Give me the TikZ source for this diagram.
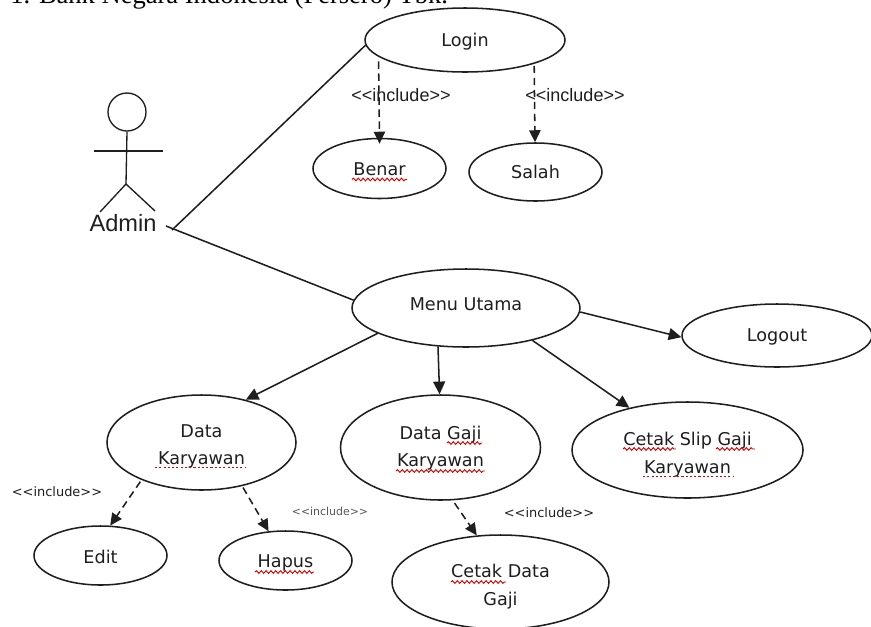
\documentclass[tikz,border=0pt]{standalone}
\usepackage{fontspec}
\setmainfont{DejaVu Sans}
\newfontfamily\arialfont{Liberation Sans}
\newfontfamily\timesfont{Liberation Serif}
\usetikzlibrary{arrows.meta,shapes.geometric,decorations.pathmorphing}
\definecolor{ink}{HTML}{1E1E1E}
\newcommand\txshift[2]{\raisebox{\dimexpr#1-3.3pt\relax}[0pt][0pt]{\begin{tabular}[c]{@{}c@{}}#2\end{tabular}}}
\newcommand\ucnode[6]{\node[uc,minimum width=#4*1.5pt,minimum height=#5*1.5pt] (#1) at (#2,#3) {#6};}
\tikzset{
  uc/.style={ellipse,draw=ink,line width=1.15pt,fill=white,inner sep=0pt,text=ink,
    font=\fontsize{13.2}{20.5}\selectfont},
  limb/.style={draw=ink,line width=1pt},
  assoc/.style={draw=ink,line width=1.15pt},
  flow/.style={draw=ink,line width=1.15pt,-{Triangle[length=9.5pt,width=9pt]}},
  incl/.style={draw=ink,line width=1.15pt,dash pattern=on 5.5pt off 3.5pt,-{Triangle[length=9pt,width=8.5pt]}},
  inclbig/.style={text=ink,font=\arialfont\fontsize{13.5}{16}\selectfont,inner sep=0pt},
  inclmid/.style={text=ink,font=\fontsize{9.7}{12}\selectfont,inner sep=0pt},
  inclsmall/.style={text=ink!75,font=\fontsize{8.2}{10}\selectfont,inner sep=0pt},
  wavy/.style={draw=red!85!black,line width=.7pt,decorate,decoration={snake,segment length=3.6pt,amplitude=1pt}},
  dots/.style={draw=red!85!black,line width=.7pt,dash pattern=on 1.6pt off 1.6pt},
}
\begin{document}
\begin{tikzpicture}[x=.75pt,y=-.75pt]
\useasboundingbox (0,0) rectangle (871,626);
\clip (0,0) rectangle (871,626);
\fill[white] (0,0) rectangle (871,626);
\node[anchor=base west,inner sep=0pt,text=black,font=\timesfont\fontsize{19.9}{22}\selectfont] (title) at (10,3) {1. Bank Negara Indonesia (Persero) Tbk.};
% actor
\node[circle,draw=ink,line width=1pt,minimum size=28.5pt,inner sep=0pt] (head) at (127,112) {};
\coordinate (hip) at (126,184);
\coordinate (armL) at (94,151);
\coordinate (armR) at (163,151);
\coordinate (footL) at (100,212);
\coordinate (footR) at (155,211);
\draw[limb] (head.south) -- (hip);
\draw[limb] (armL) -- (armR);
\draw[limb] (footL) -- (hip) -- (footR);
\node[inner sep=0pt,text=ink,font=\arialfont\fontsize{17.7}{20}\selectfont] (admin) at (123,223) {Admin};
\coordinate (adminendA) at (172,230);
\coordinate (adminendB) at (166,226);
% use cases
\ucnode{login}{465}{40}{100}{32}{\txshift{-.5pt}{Login}}
\ucnode{benar}{379.5}{168.5}{66.5}{30}{\txshift{-1pt}{Benar}}
\ucnode{salah}{535.5}{172}{66.5}{29}{\txshift{-.5pt}{Salah}}
\ucnode{menu}{466}{308}{114}{39}{\txshift{2.2pt}{Menu Utama}}
\ucnode{logout}{777}{335.5}{95}{31.5}{\txshift{-.3pt}{Logout}}
\ucnode{dk}{201.5}{442.5}{94.5}{47.5}{\txshift{-1.9pt}{Data\\Karyawan}}
\ucnode{gaji}{440.5}{447.5}{100}{52.5}{\txshift{.3pt}{Data Gaji\\Karyawan}}
\ucnode{slip}{687.5}{450}{115.5}{48}{\txshift{-2.6pt}{Cetak Slip Gaji\\Karyawan}}
\ucnode{edit}{100.5}{555.5}{66.5}{29.5}{\txshift{-1.9pt}{Edit}}
\ucnode{hapus}{285.5}{560.5}{66.5}{29.5}{\txshift{-1.1pt}{Hapus}}
\ucnode{cetak}{500.5}{582}{108.5}{47}{\txshift{-2.6pt}{Cetak Data\\Gaji}}
% connectors
\draw[assoc] (adminendA) -- (login.183);
\draw[assoc] (adminendB) -- (menu.176);
\draw[flow] (menu.358) -- (logout.181);
\draw[flow] (menu.196) -- (dk.44);
\draw[flow] (menu.234.6) -- (gaji.91);
\draw[flow] (menu.334) -- (slip.144);
\draw[incl,shorten <=3.5pt,shorten >=-4.5pt] (login.191) -- (benar.90);
\draw[incl,shorten <=1.5pt] (login.341) -- (salah.91);
\draw[incl,shorten <=1.5pt] (dk.212.5) -- (edit.72);
\draw[incl,shorten <=1.2pt] (dk.313) -- (hapus.120);
\draw[incl,shorten <=2.5pt] (gaji.283.5) -- (cetak.117);
% labels
\node[inclbig] (inc1) at (401,95) {<{}<include>{}>};
\node[inclbig] (inc2) at (575,95) {<{}<include>{}>};
\node[inclmid] (inc3) at (57,492) {<{}<include>{}>};
\node[inclsmall] (inc4) at (330,511) {<{}<include>{}>};
\node[inclmid] (inc5) at (549,513) {<{}<include>{}>};
% spell-check underlines
\draw[wavy] (352,179.5) -- (407,179.5);
\draw[wavy] (255,572) -- (314,572);
\draw[wavy] (447,443) -- (482,443);
\draw[wavy] (396,471) -- (485,471);
\draw[wavy] (623,449) -- (676,449);
\draw[wavy] (716,449) -- (755,449);
\draw[wavy] (451,582) -- (506,582);
\draw[dots] (155,467) -- (246,467);
\draw[dots] (643,476) -- (734,476);
\end{tikzpicture}
\end{document}
